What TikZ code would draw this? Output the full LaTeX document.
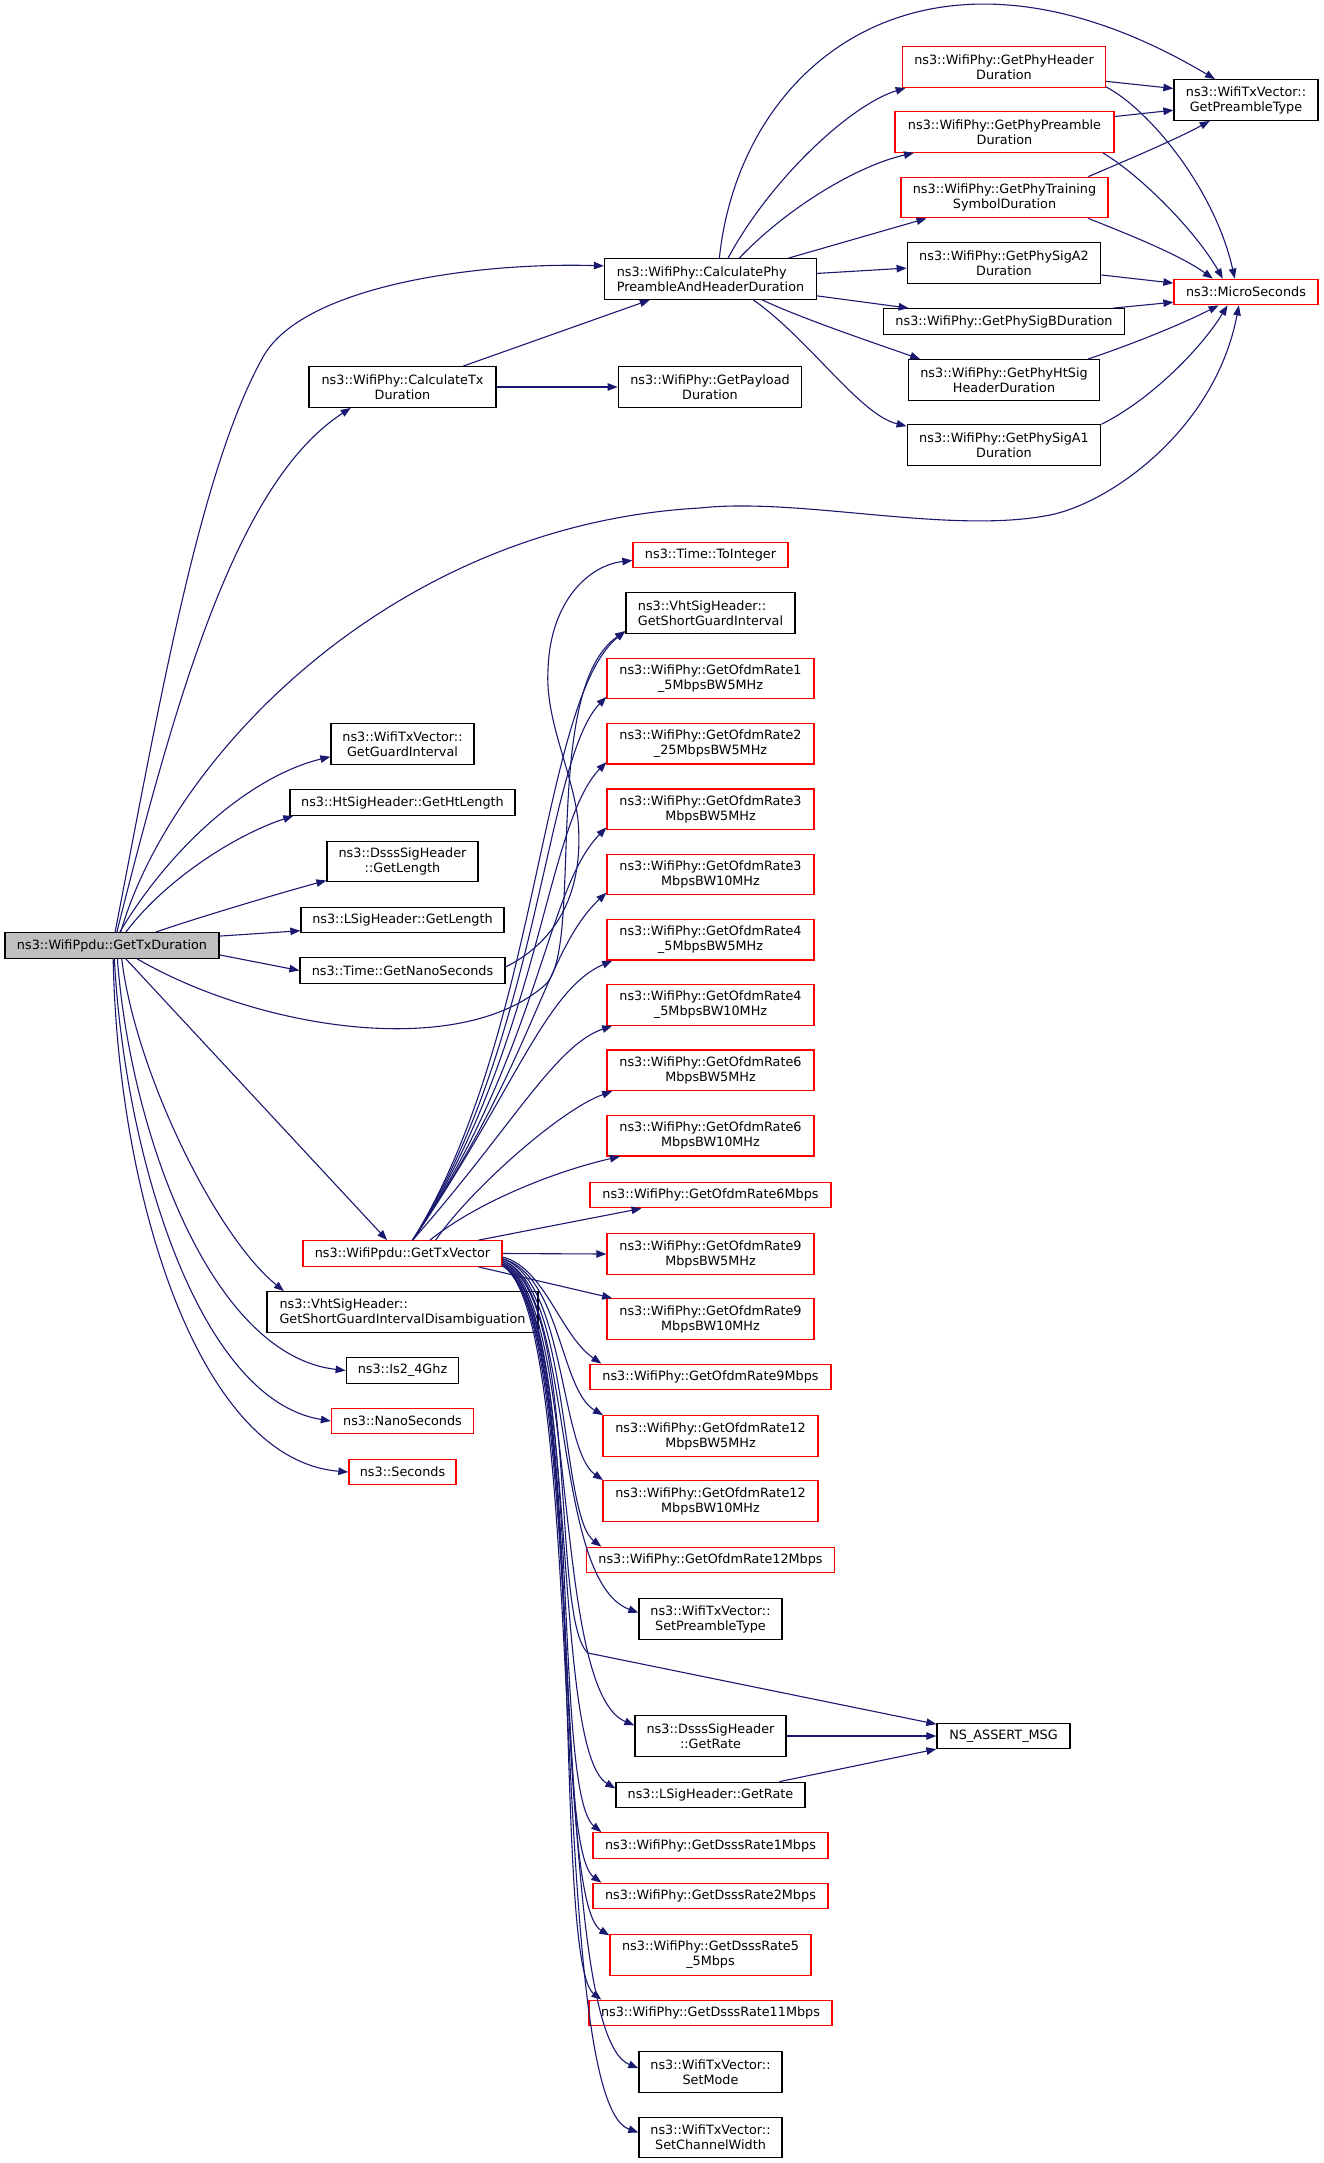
\documentclass[tikz,border=0pt]{standalone}
\usepackage{fontspec}
\setmainfont{DejaVu Sans}
\usetikzlibrary{arrows.meta, positioning}
\definecolor{edgeblue}{HTML}{191970}
\tikzstyle{func} = [rectangle, draw=black, line width=1.3pt, fill=white, inner xsep=6pt, inner ysep=2pt, minimum height=25.5pt, align=center, font=\fontsize{12.8}{15}\selectfont]
\tikzstyle{funcred} = [func, draw=red]
\tikzstyle{funcroot} = [func, fill=black!25]
\tikzstyle{twoline} = [minimum height=40.5pt]
\tikzstyle{call} = [-{Triangle[length=10pt, width=7.5pt]}, draw=edgeblue, fill=none, line width=1.1pt]

\begin{document}
\begin{tikzpicture}[x=1pt, y=-1pt, node distance=65.3pt]
\useasboundingbox (0,0) rectangle (1323,2163);

% caller
\node (gtd) [funcroot, minimum width=214pt] at (112,945.5) {ns3::WifiPpdu::GetTxDuration};

% second column
\node (ctx) [func, twoline, minimum width=187pt] at (402.5,387) {ns3::WifiPhy::CalculateTx\\Duration};
\node (ggi) [func, twoline, minimum width=143pt] at (402.5,744) {ns3::WifiTxVector::\\GetGuardInterval};
\node (htl) [func, minimum width=225pt] at (402.5,802.5) {ns3::HtSigHeader::GetHtLength};
\node (dgl) [func, twoline, minimum width=151pt] at (402.5,861.5) {ns3::DsssSigHeader\\::GetLength};
\node (lgl) [func, minimum width=203pt] at (402.5,920) {ns3::LSigHeader::GetLength};
\node (gns) [func, minimum width=205pt] at (402.5,970.5) {ns3::Time::GetNanoSeconds};
\node (gtv) [funcred, minimum width=199pt] at (402.5,1253.5) {ns3::WifiPpdu::GetTxVector};
\node (dis) [func, twoline, align=left, minimum width=271pt] at (402.5,1312) {ns3::VhtSigHeader::\\GetShortGuardIntervalDisambiguation};
\node (is24) [func, minimum width=112.5pt] at (402.5,1370.5) {ns3::Is2\_4Ghz};
\node (nano) [funcred, minimum width=142pt] at (402.5,1421) {ns3::NanoSeconds};
\node (secs) [funcred, minimum width=107pt] at (402.5,1472) {ns3::Seconds};

% third column
\node (cphy) [func, twoline, align=left, minimum width=212pt] at (710.5,279) {ns3::WifiPhy::CalculatePhy\\PreambleAndHeaderDuration};
\node (pay) [func, twoline, minimum width=183.5pt] at (710,387) {ns3::WifiPhy::GetPayload\\Duration};
\node (toint) [funcred, minimum width=155pt] at (710.5,555) {ns3::Time::ToInteger};
\node (vsgi) [func, twoline, align=left, minimum width=169pt] at (710.5,613) {ns3::VhtSigHeader::\\GetShortGuardInterval};
\node (r1) [funcred, twoline, minimum width=207pt] at (710.5,678.5) {ns3::WifiPhy::GetOfdmRate1\\\_5MbpsBW5MHz};
\node (r2) [funcred, twoline, minimum width=207pt, below of=r1] {ns3::WifiPhy::GetOfdmRate2\\\_25MbpsBW5MHz};
\node (r3) [funcred, twoline, minimum width=207pt, below of=r2] {ns3::WifiPhy::GetOfdmRate3\\MbpsBW5MHz};
\node (r4) [funcred, twoline, minimum width=207pt, below of=r3] {ns3::WifiPhy::GetOfdmRate3\\MbpsBW10MHz};
\node (r5) [funcred, twoline, minimum width=207pt, below of=r4] {ns3::WifiPhy::GetOfdmRate4\\\_5MbpsBW5MHz};
\node (r6) [funcred, twoline, minimum width=207pt, below of=r5] {ns3::WifiPhy::GetOfdmRate4\\\_5MbpsBW10MHz};
\node (r7) [funcred, twoline, minimum width=207pt, below of=r6] {ns3::WifiPhy::GetOfdmRate6\\MbpsBW5MHz};
\node (r8) [funcred, twoline, minimum width=207pt, below of=r7] {ns3::WifiPhy::GetOfdmRate6\\MbpsBW10MHz};
\node (r9) [funcred, minimum width=241pt] at (710.5,1195) {ns3::WifiPhy::GetOfdmRate6Mbps};
\node (r10) [funcred, twoline, minimum width=207pt] at (710.5,1254) {ns3::WifiPhy::GetOfdmRate9\\MbpsBW5MHz};
\node (r11) [funcred, twoline, minimum width=207pt] at (710.5,1319) {ns3::WifiPhy::GetOfdmRate9\\MbpsBW10MHz};
\node (r12) [funcred, minimum width=241pt] at (710.5,1377) {ns3::WifiPhy::GetOfdmRate9Mbps};
\node (r13) [funcred, twoline, minimum width=215pt] at (710.5,1436) {ns3::WifiPhy::GetOfdmRate12\\MbpsBW5MHz};
\node (r14) [funcred, twoline, minimum width=215pt] at (710.5,1501) {ns3::WifiPhy::GetOfdmRate12\\MbpsBW10MHz};
\node (r15) [funcred, minimum width=248.5pt] at (710.5,1560) {ns3::WifiPhy::GetOfdmRate12Mbps};
\node (spt) [func, twoline, minimum width=143pt] at (710.5,1619) {ns3::WifiTxVector::\\SetPreambleType};
\node (dgr) [func, twoline, minimum width=151pt] at (710.5,1736) {ns3::DsssSigHeader\\::GetRate};
\node (lgr) [func, minimum width=189pt] at (710.5,1795) {ns3::LSigHeader::GetRate};
\node (d1) [funcred, minimum width=235pt] at (710.5,1845.5) {ns3::WifiPhy::GetDsssRate1Mbps};
\node (d2) [funcred, minimum width=235pt] at (710.5,1896) {ns3::WifiPhy::GetDsssRate2Mbps};
\node (d55) [funcred, twoline, minimum width=201pt] at (710.5,1955) {ns3::WifiPhy::GetDsssRate5\\\_5Mbps};
\node (d11) [funcred, minimum width=243pt] at (710.5,2013) {ns3::WifiPhy::GetDsssRate11Mbps};
\node (smode) [func, twoline, minimum width=143pt] at (710.5,2072) {ns3::WifiTxVector::\\SetMode};
\node (scw) [func, twoline, minimum width=143pt] at (710.5,2137.5) {ns3::WifiTxVector::\\SetChannelWidth};

% fourth column
\node (hdr) [funcred, twoline, minimum width=202.5pt] at (1004,67) {ns3::WifiPhy::GetPhyHeader\\Duration};
\node (pre) [funcred, twoline, minimum width=219pt] at (1004.5,132) {ns3::WifiPhy::GetPhyPreamble\\Duration};
\node (trn) [funcred, twoline, minimum width=207pt] at (1004.5,197.5) {ns3::WifiPhy::GetPhyTraining\\SymbolDuration};
\node (siga2) [func, twoline, minimum width=193.5pt] at (1004,263) {ns3::WifiPhy::GetPhySigA2\\Duration};
\node (sigb) [func, minimum width=241.5pt] at (1004,321.5) {ns3::WifiPhy::GetPhySigBDuration};
\node (htsig) [func, twoline, minimum width=190.5pt] at (1004,380) {ns3::WifiPhy::GetPhyHtSig\\HeaderDuration};
\node (siga1) [func, twoline, minimum width=193.5pt] at (1004,445) {ns3::WifiPhy::GetPhySigA1\\Duration};
\node (nsa) [func, minimum width=133pt] at (1003.5,1736) {NS\_ASSERT\_MSG};

% fifth column
\node (ptype) [func, twoline, minimum width=144pt] at (1246,100) {ns3::WifiTxVector::\\GetPreambleType};
\node (micro) [funcred, minimum width=144pt] at (1246,292) {ns3::MicroSeconds};

% calls of GetTxDuration
\draw [call] (gtd.77) .. controls (160,700) and (200,470) .. (263,357) .. controls (303,285) and (480,262) .. (cphy.173);
\draw [call] (gtd.70) .. controls (180,680) and (240,480) .. (ctx.202);
\draw [call] (gtd.57) .. controls (170,760) and (390,525) .. (700,508) .. controls (800,497) and (950,535) .. (1050,515) .. controls (1110,503) and (1215,430) .. (micro.242);
\draw [call] (gtd.60) .. controls (175,840) and (255,775) .. (ggi.190);
\draw [call] (gtd.44) .. controls (165,880) and (235,835) .. (htl.187);
\draw [call] (gtd.17) .. controls (190,920) and (280,893) .. (dgl.194);
\draw [call] (gtd.5) -- (lgl.186);
\draw [call] (gtd.355) -- (gns.180);
\draw [call] (gtd.332) .. controls (260,1030) and (460,1060) .. (545,985) .. controls (585,950) and (540,690) .. (vsgi.192);
\draw [call] (gtd.316) -- (gtv.139);
\draw [call] (gtd.306) .. controls (135,1070) and (215,1235) .. (dis.170);
\draw [call] (gtd.292) .. controls (130,1130) and (210,1355) .. (is24.west);
\draw [call] (gtd.280) .. controls (125,1160) and (200,1400) .. (nano.west);
\draw [call] (gtd.275) .. controls (118,1200) and (200,1460) .. (secs.west);
\draw [call] (gns.2) .. controls (550,945) and (585,900) .. (578,820) .. controls (572,770) and (545,720) .. (548,670) .. controls (550,600) and (590,565) .. (toint.184);

% CalculateTx and CalculatePhyPreambleAndHeaderDuration
\draw [call] (ctx.19) -- (cphy.199);
\draw [call] (ctx.east) -- (pay.west);
\draw [call] (cphy.67) .. controls (740,60) and (930,-90) .. (ptype.146);
\draw [call] (cphy.50) .. controls (770,180) and (850,105) .. (hdr.192);
\draw [call] (cphy.36) .. controls (790,205) and (860,165) .. (pre.193);
\draw [call] (cphy.15) -- (trn.195);
\draw [call] (cphy.3) -- (siga2.183);
\draw [call] (cphy.351) -- (sigb.172);
\draw [call] (cphy.338) .. controls (800,318) and (880,345) .. (htsig.166);
\draw [call] (cphy.334) .. controls (810,340) and (860,415) .. (siga1.169);
\draw [call] (hdr.352) -- (ptype.171);
\draw [call] (hdr.349) .. controls (1150,110) and (1215,190) .. (micro.130);
\draw [call] (pre.8) -- (ptype.188);
\draw [call] (pre.348) .. controls (1140,175) and (1195,230) .. (micro.150);
\draw [call] (trn.14) .. controls (1120,163) and (1175,140) .. (ptype.210);
\draw [call] (trn.346) .. controls (1130,235) and (1180,255) .. (micro.158);
\draw [call] (siga2.353) -- (micro.173);
\draw [call] (sigb.7) -- (micro.188);
\draw [call] (htsig.14) .. controls (1130,345) and (1180,325) .. (micro.206);
\draw [call] (siga1.12) .. controls (1150,400) and (1200,350) .. (micro.216);

% calls of GetTxVector
\draw [call] (gtv.53) .. controls (540,1035) and (540,700) .. (vsgi.192);
\draw [call] (gtv.53) .. controls (540,1040) and (545,760) .. (r1.190);
\draw [call] (gtv.53) .. controls (540,1045) and (545,825) .. (r2.190);
\draw [call] (gtv.53) .. controls (540,1050) and (545,890) .. (r3.190);
\draw [call] (gtv.53) .. controls (535,1060) and (545,950) .. (r4.190);
\draw [call] (gtv.53) .. controls (515,1090) and (545,990) .. (r5.192);
\draw [call] (gtv.53) .. controls (510,1130) and (555,1045) .. (r6.192);
\draw [call] (gtv.22) .. controls (470,1190) and (560,1110) .. (r7.192);
\draw [call] (gtv.26) .. controls (480,1200) and (560,1170) .. (r8.193);
\draw [call] (gtv.10) -- (r9.191);
\draw [call] (gtv.east) -- (r10.west);
\draw [call] (gtv.350) -- (r11.168);
\draw [call] (gtv.358) .. controls (545,1268) and (560,1335) .. (r12.173);
\draw [call] (gtv.357) .. controls (560,1275) and (560,1390) .. (r13.169);
\draw [call] (gtv.357) .. controls (565,1280) and (560,1450) .. (r14.169);
\draw [call] (gtv.356) .. controls (570,1285) and (560,1515) .. (r15.173);
\draw [call] (gtv.356) .. controls (575,1290) and (550,1580) .. (spt.175);
\draw [call] (gtv.355) .. controls (580,1295) and (550,1620) .. (588,1653) -- (nsa.170);
\draw [call] (gtv.355) .. controls (580,1300) and (550,1690) .. (dgr.172);
\draw [call] (gtv.354) .. controls (580,1300) and (550,1750) .. (lgr.176);
\draw [call] (gtv.354) .. controls (585,1305) and (550,1790) .. (d1.173);
\draw [call] (gtv.354) .. controls (585,1305) and (550,1845) .. (d2.173);
\draw [call] (gtv.353) .. controls (585,1310) and (550,1900) .. (d55.169);
\draw [call] (gtv.353) .. controls (590,1310) and (550,1960) .. (d11.173);
\draw [call] (gtv.353) .. controls (590,1315) and (545,2030) .. (smode.177);
\draw [call] (gtv.353) .. controls (590,1320) and (545,2100) .. (scw.176);
\draw [call] (dgr.east) -- (nsa.west);
\draw [call] (lgr.11) -- (nsa.191);
\end{tikzpicture}
\end{document}
